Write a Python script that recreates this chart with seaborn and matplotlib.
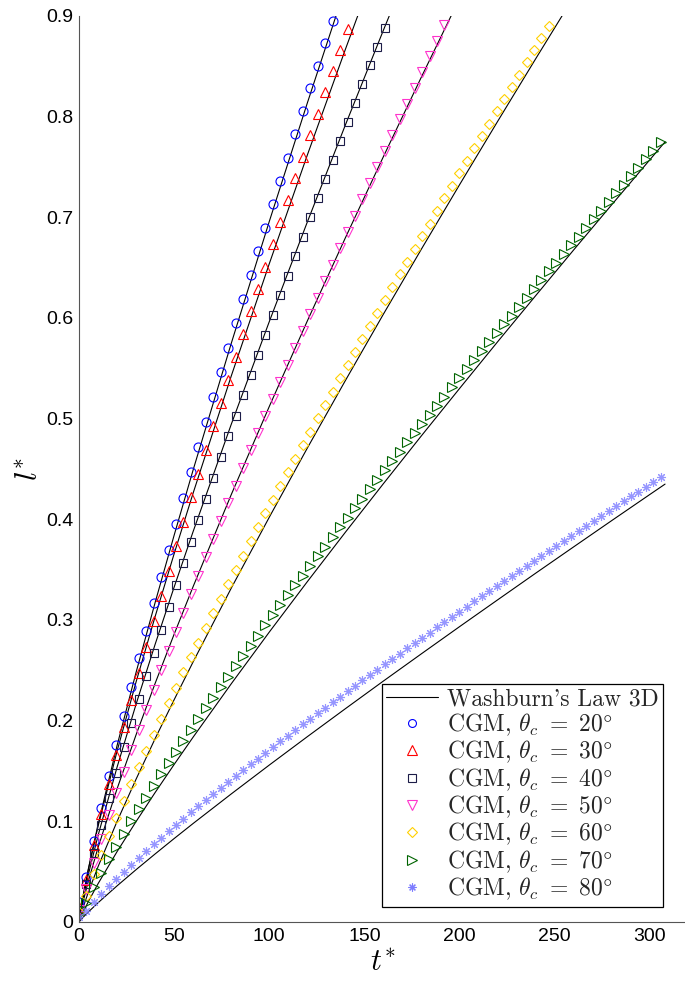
import numpy as np
import matplotlib
matplotlib.use("Agg")
import matplotlib.pyplot as plt
from matplotlib.lines import Line2D
import seaborn as sns

# Washburn's law (3D) curves, l* at these t*
t_wash = [0, 2, 5, 10, 20, 30, 40, 50, 60, 80, 100, 120, 140, 160, 180, 200,
          220, 240, 260, 280, 300, 308]
wash_20 = [0, 0.0243, 0.0534, 0.0968, 0.1752, 0.2480, 0.3173, 0.3842, 0.4492,
           0.5747, 0.6959, 0.8136, 0.9285]
wash_30 = [0, 0.0246, 0.0531, 0.0950, 0.1697, 0.2385, 0.3034, 0.3658, 0.4262,
           0.5423, 0.6539, 0.7619, 0.8669, 0.9696]
wash_40 = [0, 0.0221, 0.0479, 0.0858, 0.1538, 0.2164, 0.2758, 0.3327, 0.3880,
           0.4943, 0.5964, 0.6954, 0.7918, 0.8860, 0.9784]
wash_50 = [0, 0.0191, 0.0412, 0.0739, 0.1323, 0.1860, 0.2370, 0.2859, 0.3333,
           0.4245, 0.5121, 0.5971, 0.6797, 0.7604, 0.8396, 0.9174]
wash_60 = [0, 0.0136, 0.0301, 0.0549, 0.0999, 0.1419, 0.1821, 0.2208, 0.2585,
           0.3316, 0.4021, 0.4708, 0.5379, 0.6039, 0.6686, 0.7324, 0.7953,
           0.8575, 0.9190]
wash_70 = [0, 0.0092, 0.0206, 0.0380, 0.0699, 0.0998, 0.1286, 0.1565, 0.1837,
           0.2366, 0.2880, 0.3381, 0.3872, 0.4355, 0.4831, 0.5300, 0.5764,
           0.6222, 0.6677, 0.7126, 0.7572, 0.775]
wash_80 = [0, 0.0044, 0.0101, 0.0191, 0.0359, 0.0520, 0.0676, 0.0829, 0.0979,
           0.1272, 0.1559, 0.1841, 0.2119, 0.2394, 0.2665, 0.2934, 0.3200,
           0.3465, 0.3727, 0.3988, 0.4247, 0.435]

# CGM results, one sample every 3.92 time units
dt_cgm = 3.92
cgm_20 = [0.020, 0.0447, 0.0806, 0.1137, 0.1452, 0.1756, 0.2050, 0.2337, 0.2618,
          0.2893, 0.3164, 0.3432, 0.3695, 0.3956, 0.4213, 0.4467, 0.4719, 0.4968,
          0.5216, 0.5461, 0.5705, 0.5946, 0.6186, 0.6425, 0.6662, 0.6897, 0.7130,
          0.7362, 0.7594, 0.7823, 0.8052, 0.8280, 0.8505, 0.8730, 0.8955]
cgm_30 = [0.015, 0.0422, 0.0760, 0.1074, 0.1371, 0.1658, 0.1935, 0.2206, 0.2471,
          0.2732, 0.2987, 0.3240, 0.3489, 0.3734, 0.3977, 0.4217, 0.4455, 0.4690,
          0.4924, 0.5156, 0.5386, 0.5613, 0.5840, 0.6065, 0.6289, 0.6511, 0.6731,
          0.6950, 0.7169, 0.7386, 0.7601, 0.7817, 0.8029, 0.8242, 0.8454, 0.8665,
          0.8875]
cgm_40 = [0.012, 0.0378, 0.0681, 0.0962, 0.1228, 0.1485, 0.1734, 0.1976, 0.2214,
          0.2447, 0.2676, 0.2902, 0.3125, 0.3345, 0.3562, 0.3777, 0.3990, 0.4201,
          0.4411, 0.4618, 0.4824, 0.5028, 0.5231, 0.5433, 0.5633, 0.5832, 0.6029,
          0.6226, 0.6421, 0.6616, 0.6809, 0.7002, 0.7192, 0.7382, 0.7572, 0.7761,
          0.7950, 0.8137, 0.8324, 0.8509, 0.8694, 0.8879]
cgm_50 = [0.012, 0.0326, 0.0587, 0.0829, 0.1059, 0.1281, 0.1495, 0.1704, 0.1909,
          0.2110, 0.2308, 0.2503, 0.2695, 0.2885, 0.3072, 0.3258, 0.3441, 0.3623,
          0.3804, 0.3983, 0.4160, 0.4336, 0.4512, 0.4686, 0.4858, 0.5030, 0.5200,
          0.5369, 0.5538, 0.5706, 0.5872, 0.6038, 0.6203, 0.6367, 0.6531, 0.6693,
          0.6856, 0.7018, 0.7179, 0.7338, 0.7498, 0.7658, 0.7814, 0.7974, 0.8130,
          0.8287, 0.8443, 0.8600, 0.8756, 0.8910]
cgm_60 = [0.010, 0.0263, 0.0474, 0.0669, 0.0854, 0.1033, 0.1206, 0.1375, 0.1540,
          0.1702, 0.1862, 0.2019, 0.2174, 0.2327, 0.2479, 0.2628, 0.2776, 0.2923,
          0.3069, 0.3213, 0.3356, 0.3498, 0.3640, 0.3780, 0.3919, 0.4058, 0.4195,
          0.4332, 0.4468, 0.4603, 0.4737, 0.4872, 0.5004, 0.5136, 0.5269, 0.5400,
          0.5531, 0.5662, 0.5791, 0.5920, 0.6049, 0.6178, 0.6304, 0.6433, 0.6559,
          0.6685, 0.6812, 0.6938, 0.7064, 0.7188, 0.7311, 0.7438, 0.7561, 0.7685,
          0.7808, 0.7929, 0.8053, 0.8174, 0.8295, 0.8416, 0.8540, 0.8661, 0.8779,
          0.8900]
cgm_70 = [0.008, 0.0191, 0.0344, 0.0486, 0.0621, 0.0750, 0.0876, 0.0999, 0.1118,
          0.1236, 0.1352, 0.1466, 0.1579, 0.1690, 0.1800, 0.1909, 0.2016, 0.2123,
          0.2229, 0.2333, 0.2438, 0.2541, 0.2643, 0.2745, 0.2846, 0.2947, 0.3047,
          0.3146, 0.3245, 0.3343, 0.3440, 0.3538, 0.3634, 0.3730, 0.3826, 0.3922,
          0.4017, 0.4112, 0.4206, 0.4299, 0.4393, 0.4487, 0.4578, 0.4672, 0.4764,
          0.4855, 0.4947, 0.5039, 0.5130, 0.5220, 0.5310, 0.5401, 0.5491, 0.5581,
          0.5671, 0.5759, 0.5848, 0.5936, 0.6024, 0.6112, 0.6202, 0.6290, 0.6376,
          0.6463, 0.6551, 0.6637, 0.6723, 0.6809, 0.6895, 0.6981, 0.7067, 0.7153,
          0.7239, 0.7325, 0.7409, 0.7493, 0.7577, 0.7663, 0.7747]
cgm_80 = [0.005, 0.0109, 0.0196, 0.0277, 0.0354, 0.0428, 0.0500, 0.0570, 0.0638,
          0.0706, 0.0772, 0.0837, 0.0901, 0.0965, 0.1027, 0.1089, 0.1151, 0.1211,
          0.1272, 0.1332, 0.1391, 0.1450, 0.1508, 0.1567, 0.1624, 0.1682, 0.1739,
          0.1795, 0.1852, 0.1908, 0.1963, 0.2019, 0.2074, 0.2129, 0.2184, 0.2238,
          0.2292, 0.2346, 0.2400, 0.2454, 0.2507, 0.2560, 0.2613, 0.2666, 0.2718,
          0.2771, 0.2823, 0.2875, 0.2928, 0.2979, 0.3030, 0.3083, 0.3134, 0.3185,
          0.3236, 0.3286, 0.3338, 0.3388, 0.3438, 0.3488, 0.3539, 0.3589, 0.3638,
          0.3689, 0.3739, 0.3788, 0.3837, 0.3886, 0.3935, 0.3984, 0.4033, 0.4082,
          0.4131, 0.4180, 0.4228, 0.4276, 0.4324, 0.4373, 0.4421]

angles = [20, 30, 40, 50, 60, 70, 80]
wash_all = [wash_20, wash_30, wash_40, wash_50, wash_60, wash_70, wash_80]
cgm_all = [cgm_20, cgm_30, cgm_40, cgm_50, cgm_60, cgm_70, cgm_80]
colors = ['#0000ff', '#ff0000', '#1c1c48', '#ff33cc', '#ffd000', '#006400', '#7c7cff']
markers = ['o', '^', 's', 'v', 'D', '>', (8, 2, 0)]
msizes = [6.5, 7.5, 6.2, 7.5, 5.4, 7.5, 6.5]

xticks = [0, 50, 100, 150, 200, 250, 300]
yticks = [0, 0.1, 0.2, 0.3, 0.4, 0.5, 0.6, 0.7, 0.8, 0.9]
ytick_labels = ['0', '0.1', '0.2', '0.3', '0.4', '0.5', '0.6', '0.7', '0.8', '0.9']

sns.set_style('white')
plt.rcParams['font.family'] = ['Liberation Sans', 'DejaVu Sans']
plt.rcParams['mathtext.fontset'] = 'cm'

fig = plt.figure(figsize=(6.85, 9.82), dpi=100)
ax = fig.add_axes([79 / 685, 60 / 982, 607 / 685, 906 / 982])

for w in wash_all:
    sns.lineplot(x=t_wash[:len(w)], y=w, ax=ax, color='black', linewidth=0.8,
                 errorbar=None, sort=False)

for vals, c, m, ms in zip(cgm_all, colors, markers, msizes):
    t_cgm = np.arange(len(vals)) * dt_cgm
    alpha = 0.8 if c == '#7c7cff' else 1.0
    sns.lineplot(x=t_cgm, y=vals, ax=ax, linestyle='', marker=m, markersize=ms,
                 markerfacecolor='none', markeredgecolor=c, markeredgewidth=0.8,
                 color=c, alpha=alpha, errorbar=None, sort=False)

ax.set_xlim(0, 319)
ax.set_ylim(0, 0.9)
ax.set_xticks(xticks)
ax.set_yticks(yticks)
ax.set_yticklabels(ytick_labels)
ax.tick_params(direction='in', length=6, width=0.8, color='#555555',
               labelsize=14, labelcolor='black', pad=4)
for side in ['top', 'right']:
    ax.spines[side].set_visible(False)
for side in ['left', 'bottom']:
    ax.spines[side].set_color('#555555')
    ax.spines[side].set_linewidth(0.8)

ax.set_xlabel(r'$t^{*}$', fontsize=22, labelpad=2, color='black')
ax.set_ylabel(r'$l^{*}$', fontsize=22, labelpad=1, color='black')

handles = [Line2D([], [], color='black', linewidth=0.8)]
labels = ["Washburn's Law 3D"]
for a, c, m, ms in zip(angles, colors, markers, msizes):
    handles.append(Line2D([], [], linestyle='', marker=m, markersize=ms - 0.8,
                          markerfacecolor='none', markeredgecolor=c,
                          markeredgewidth=0.8))
    labels.append(r'CGM, $\theta_c\ =\ %d\degree$' % a)

leg = ax.legend(handles, labels, loc='lower right',
                bbox_to_anchor=(663 / 685, 75 / 982), bbox_transform=fig.transFigure,
                prop={'family': 'cmr10', 'size': 17}, frameon=True, fancybox=False,
                framealpha=1, edgecolor='black', handlelength=2.2,
                handletextpad=0.35, borderpad=0.2, labelspacing=0.04,
                borderaxespad=0)
leg.get_frame().set_linewidth(0.9)

fig.savefig('out.png', dpi=100)
